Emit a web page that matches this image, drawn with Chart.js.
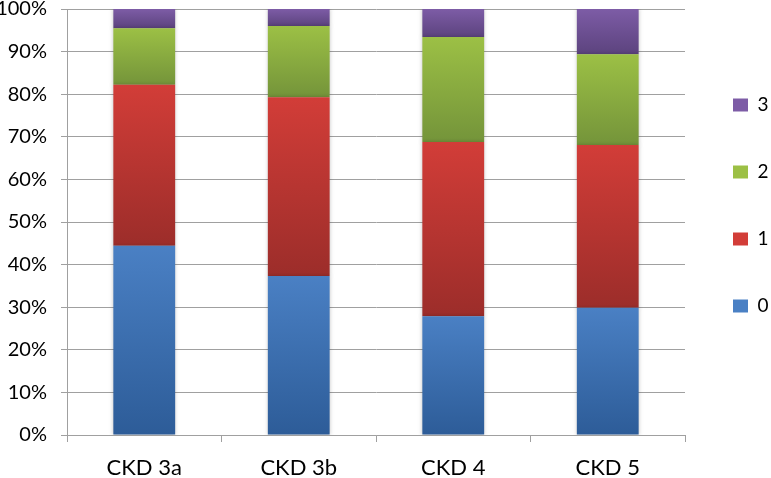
<!DOCTYPE html>
<html>
<head>
<meta charset="utf-8">
<script src="https://cdn.jsdelivr.net/npm/chart.js@4/dist/chart.umd.min.js"></script>
<style>
  html, body { margin: 0; padding: 0; background: #ffffff; }
  #wrap { width: 771px; height: 478px; position: relative; }
</style>
</head>
<body>
<div id="wrap"><canvas id="c" width="771" height="478"></canvas></div>
<script>
// ---- data (percent of each CKD stage) ----
const categories = ['CKD 3a', 'CKD 3b', 'CKD 4', 'CKD 5'];
const seriesNames = ['0', '1', '2', '3'];
const series0 = [44.4, 37.3, 27.9, 29.9];
const series1 = [37.8, 42.0, 40.9, 38.2];
const series2 = [13.3, 16.7, 24.6, 21.3];
const series3 = [4.5, 4.0, 6.6, 10.6];
const yTicks = [0, 10, 20, 30, 40, 50, 60, 70, 80, 90, 100];

const allSeries = [series0, series1, series2, series3];
// gradient colours (top, bottom) per series
const palette = [
  ['#4a80c4', '#2d5c98'],
  ['#d23d38', '#9c2d2a'],
  ['#9cc045', '#74943a'],
  ['#7d5ca6', '#5c437e']
];

function segmentGradient(context, si) {
  const chart = context.chart;
  const area = chart.chartArea;
  if (!area || context.type !== 'data') return palette[si][0];
  const y = chart.scales.y;
  const i = context.dataIndex;
  let base = 0;
  for (let k = 0; k < si; k++) base += allSeries[k][i];
  const top = base + allSeries[si][i];
  const pTop = y.getPixelForValue(top);
  const pBot = y.getPixelForValue(base);
  if (!isFinite(pTop) || !isFinite(pBot) || pTop === pBot) return palette[si][0];
  const g = chart.ctx.createLinearGradient(0, pTop, 0, pBot);
  g.addColorStop(0, palette[si][0]);
  g.addColorStop(1, palette[si][1]);
  return g;
}

const datasets = allSeries.map((vals, si) => ({
  label: seriesNames[si],
  data: vals,
  backgroundColor: (ctx) => segmentGradient(ctx, si),
  borderWidth: 0,
  barPercentage: 0.4,
  categoryPercentage: 1.0
}));

const shadowPlugin = {
  id: 'barShadow',
  beforeDatasetsDraw(chart) {
    const ctx = chart.ctx;
    ctx.save();
    ctx.shadowColor = 'rgba(0,0,0,0.22)';
    ctx.shadowBlur = 4;
    ctx.shadowOffsetX = 0;
    ctx.shadowOffsetY = 0;
  },
  afterDatasetsDraw(chart) {
    chart.ctx.restore();
  }
};

const gridColor = '#a0a0a0';
const fontFamily = 'Lato, "Open Sans", sans-serif';

new Chart(document.getElementById('c'), {
  type: 'bar',
  data: { labels: categories, datasets: datasets },
  plugins: [shadowPlugin],
  options: {
    responsive: false,
    animation: false,
    devicePixelRatio: 1,
    layout: { padding: 0 },
    plugins: {
      tooltip: { enabled: false },
      legend: {
        position: 'right',
        align: 'start',
        reverse: true,
        maxWidth: 86,
        title: {
          display: true,
          text: ' ',
          font: { size: 10, family: fontFamily },
          padding: { top: 0, bottom: 35.5 }
        },
        labels: {
          boxWidth: 15,
          boxHeight: 13,
          padding: 48,
          color: '#000000',
          font: { size: 19, family: fontFamily },
          generateLabels(chart) {
            return chart.data.datasets.map((ds, i) => ({
              text: ds.label,
              fillStyle: palette[i][0],
              strokeStyle: palette[i][0],
              fontColor: '#000000',
              lineWidth: 0,
              hidden: false,
              datasetIndex: i
            }));
          }
        }
      }
    },
    scales: {
      x: {
        stacked: true,
        afterFit(scale) { scale.height = 43; },
        grid: {
          offset: true,
          drawOnChartArea: false,
          drawTicks: true,
          tickLength: 7,
          color: gridColor
        },
        border: { display: true, color: gridColor, width: 1 },
        ticks: {
          color: '#000000',
          padding: 15,
          font: { size: 22, family: fontFamily, lineHeight: 1.0 }
        }
      },
      y: {
        stacked: true,
        min: 0,
        max: 100,
        afterBuildTicks(scale) {
          scale.ticks = yTicks.map(v => ({ value: v }));
        },
        afterFit(scale) {
          scale.width = 67;
          scale.paddingTop = 9;
          scale.paddingBottom = 0;
        },
        grid: {
          color: gridColor,
          lineWidth: 1,
          drawTicks: true,
          tickLength: 6
        },
        border: { display: true, color: gridColor, width: 1 },
        ticks: {
          color: '#000000',
          padding: 14,
          font: { size: 20, family: fontFamily, lineHeight: 1.0 },
          callback: (v) => v + '%'
        }
      }
    }
  }
});
</script>
</body>
</html>
